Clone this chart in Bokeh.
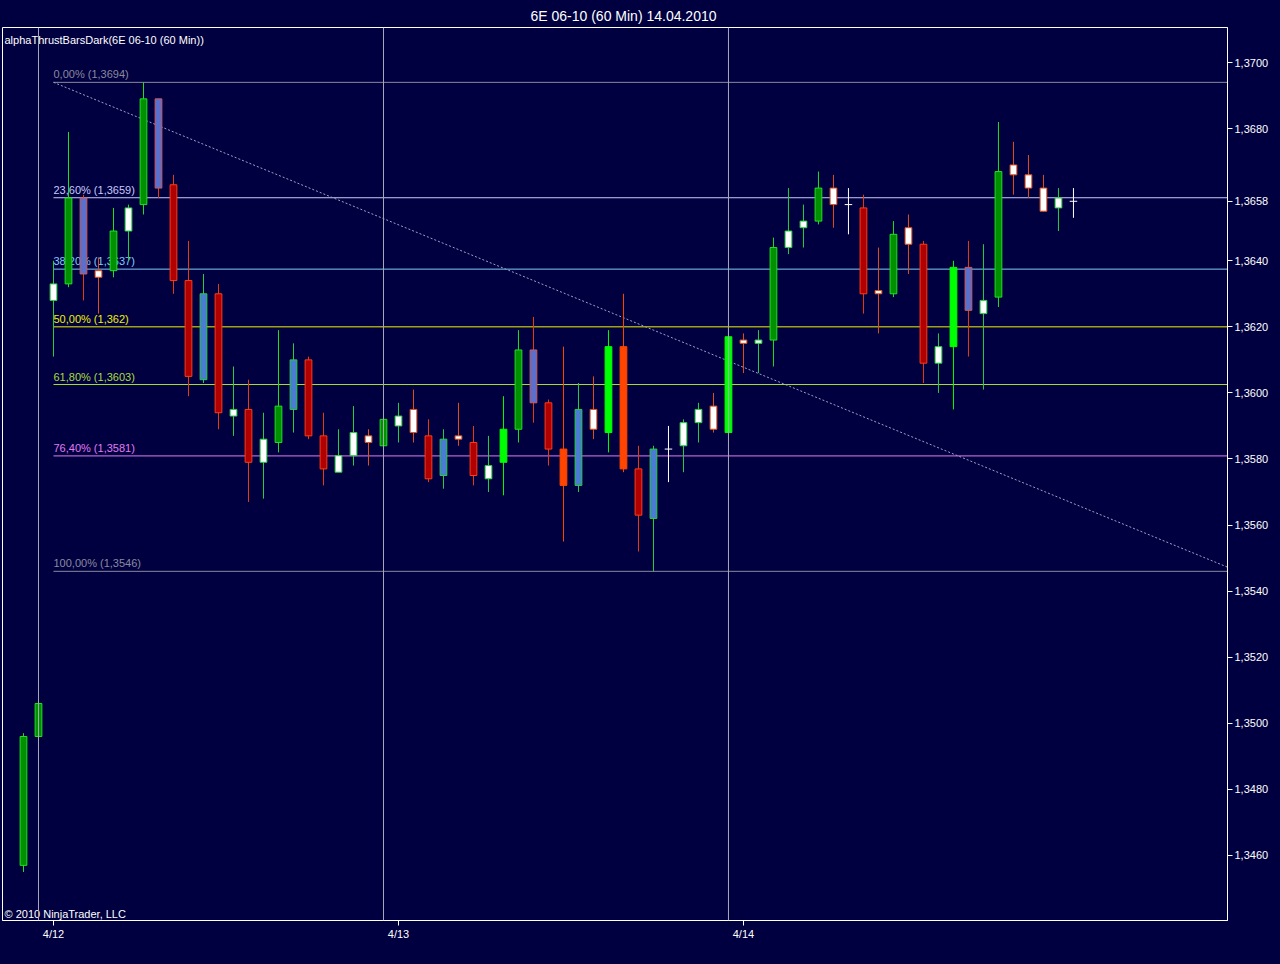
from bokeh.plotting import figure
from bokeh.models import Range1d, FixedTicker, CustomJSTickFormatter, Span, ColumnDataSource
from bokeh.core.properties import value
from bokeh.embed import file_html
from bokeh.resources import INLINE

FONT = "Liberation Sans"
BG = "#000040"

# hourly bars, index 0 = last bar before 4/12 session line
opens = [1.3457, 1.3496, 1.3628, 1.3633, 1.3659, 1.3637, 1.3637, 1.3649, 1.3657, 1.3689,
         1.3663, 1.3634, 1.3604, 1.3630, 1.3593, 1.3595, 1.3579, 1.3585, 1.3595, 1.3610,
         1.3587, 1.3576, 1.3581, 1.3587, 1.3584, 1.3590, 1.3588, 1.3587, 1.3575, 1.3587,
         1.3585, 1.3574, 1.3579, 1.3589, 1.3613, 1.3597, 1.3583, 1.3572, 1.3589, 1.3588,
         1.3614, 1.3577, 1.3562, 1.3583, 1.3584, 1.3591, 1.3589, 1.3588, 1.3616, 1.3615,
         1.3616, 1.3644, 1.3650, 1.3652, 1.3662, 1.3657, 1.3656, 1.3631, 1.3630, 1.3645,
         1.3645, 1.3609, 1.3614, 1.3638, 1.3624, 1.3629, 1.3669, 1.3666, 1.3662, 1.3656,
         1.3658]
highs = [1.3497, 1.3507, 1.3640, 1.3679, 1.3660, 1.3641, 1.3656, 1.3657, 1.3694, 1.3689,
         1.3666, 1.3646, 1.3636, 1.3633, 1.3608, 1.3604, 1.3594, 1.3619, 1.3615, 1.3611,
         1.3594, 1.3589, 1.3596, 1.3589, 1.3594, 1.3597, 1.3601, 1.3592, 1.3589, 1.3597,
         1.3590, 1.3587, 1.3599, 1.3619, 1.3623, 1.3598, 1.3614, 1.3603, 1.3605, 1.3619,
         1.3630, 1.3584, 1.3584, 1.3590, 1.3592, 1.3597, 1.3600, 1.3620, 1.3618, 1.3619,
         1.3647, 1.3662, 1.3657, 1.3667, 1.3666, 1.3662, 1.3660, 1.3644, 1.3652, 1.3654,
         1.3646, 1.3618, 1.3640, 1.3646, 1.3645, 1.3682, 1.3676, 1.3672, 1.3666, 1.3662,
         1.3662]
lows = [1.3455, 1.3489, 1.3611, 1.3632, 1.3628, 1.3624, 1.3635, 1.3640, 1.3654, 1.3659,
        1.3630, 1.3599, 1.3603, 1.3589, 1.3587, 1.3567, 1.3568, 1.3582, 1.3588, 1.3586,
        1.3572, 1.3576, 1.3578, 1.3578, 1.3582, 1.3585, 1.3585, 1.3573, 1.3571, 1.3584,
        1.3572, 1.3570, 1.3569, 1.3585, 1.3591, 1.3578, 1.3555, 1.3570, 1.3586, 1.3582,
        1.3576, 1.3552, 1.3546, 1.3573, 1.3576, 1.3585, 1.3588, 1.3588, 1.3606, 1.3606,
        1.3608, 1.3642, 1.3644, 1.3651, 1.3650, 1.3648, 1.3624, 1.3618, 1.3629, 1.3636,
        1.3603, 1.3600, 1.3595, 1.3611, 1.3601, 1.3626, 1.3660, 1.3659, 1.3655, 1.3649,
        1.3653]
closes = [1.3496, 1.3506, 1.3633, 1.3659, 1.3636, 1.3635, 1.3649, 1.3656, 1.3689, 1.3662,
          1.3634, 1.3605, 1.3630, 1.3594, 1.3595, 1.3579, 1.3586, 1.3596, 1.3610, 1.3587,
          1.3577, 1.3581, 1.3588, 1.3585, 1.3592, 1.3593, 1.3595, 1.3574, 1.3586, 1.3586,
          1.3575, 1.3578, 1.3589, 1.3613, 1.3597, 1.3583, 1.3572, 1.3595, 1.3595, 1.3614,
          1.3577, 1.3563, 1.3583, 1.3583, 1.3591, 1.3595, 1.3596, 1.3617, 1.3615, 1.3616,
          1.3644, 1.3649, 1.3652, 1.3662, 1.3657, 1.3657, 1.3630, 1.3630, 1.3648, 1.3650,
          1.3609, 1.3614, 1.3638, 1.3625, 1.3628, 1.3667, 1.3666, 1.3662, 1.3655, 1.3659,
          1.3658]
# alphaThrust bar type per bar
kinds = ["G", "G", "WG", "G", "BR", "WR", "G", "WG", "G", "BR",
         "R", "R", "BG", "R", "WG", "R", "WG", "G", "BG", "R",
         "R", "WG", "WG", "WR", "G", "WG", "WR", "R", "BG", "WR",
         "R", "WG", "L", "G", "BR", "R", "O", "BG", "WR", "L",
         "O", "R", "BG", "X", "WG", "WG", "WR", "L", "WR", "WG",
         "G", "WG", "WG", "G", "WR", "X", "R", "WR", "G", "WR",
         "R", "WG", "L", "BR", "WG", "G", "WR", "WR", "WR", "WG",
         "X"]

fib_pcts = [0.0, 23.6, 38.2, 50.0, 61.8, 76.4, 100.0]
fib_labels = ["0,00% (1,3694)", "23,60% (1,3659)", "38,20% (1,3637)", "50,00% (1,362)",
              "61,80% (1,3603)", "76,40% (1,3581)", "100,00% (1,3546)"]
fib_high, fib_low = 1.3694, 1.3546
fib_colors = ["#8a8a9e", "#c8c8f8", "#80ccf4", "#f0f000", "#a8dc3c", "#e07cf0", "#8a8a9e"]

trend_x = [2, 80.3]
trend_y = [1.3694, 1.35472]

day_lines = [1, 24, 47]
day_ticks = [2, 25, 48]
day_labels = ["4/12", "4/13", "4/14"]
# 1,3660 sits behind the last-price marker
y_ticks = [1.346, 1.348, 1.350, 1.352, 1.354, 1.356, 1.358, 1.360, 1.362, 1.364, 1.368, 1.370]
last_price = 1.3658

style = {
    "G": ("#009000", "#20e020", "#20e020"),
    "L": ("#00ff00", "#00ff00", "#00ff00"),
    "R": ("#b00000", "#ff3c14", "#e83c14"),
    "O": ("#ff4500", "#ff4500", "#ff4500"),
    "BG": ("#4a7cd4", "#28d040", "#28d040"),
    "BR": ("#5a70cc", "#d05a5a", "#e83c14"),
    "WG": ("#ffffff", "#28d040", "#28d040"),
    "WR": ("#ffffff", "#e0501e", "#e0501e"),
    "X": ("#ffffff", "#ffffff", "#ffffff"),
}

bars = list(range(len(opens)))

p = figure(width=1280, height=964, output_backend="svg", toolbar_location=None,
           x_range=Range1d(-1.4, 80.27), y_range=Range1d(1.344031, 1.37106),
           y_axis_location="right", min_border_left=2, min_border_right=53,
           min_border_top=27, min_border_bottom=44,
           title="6E 06-10 (60 Min)  14.04.2010")
p.background_fill_color = BG
p.border_fill_color = BG
p.outline_line_color = "white"
p.outline_line_width = 1
p.grid.visible = False

p.title.align = "left"
p.title.offset = 528
p.title.standoff = 8
p.title.text_color = "white"
p.title.text_font = FONT
p.title.text_font_size = "14px"
p.title.text_font_style = "normal"

for ax in (p.xaxis[0], p.yaxis[0]):
    ax.axis_line_color = "white"
    ax.major_tick_line_color = "white"
    ax.major_tick_in = 0
    ax.major_tick_out = 5
    ax.minor_tick_line_color = None
    ax.major_label_text_color = "white"
    ax.major_label_text_font = FONT
    ax.major_label_text_font_size = "11px"
    ax.major_label_standoff = 2

p.yaxis.ticker = FixedTicker(ticks=y_ticks + [last_price])
p.yaxis.formatter = CustomJSTickFormatter(code="return tick.toFixed(4).replace('.', ',');")
p.xaxis.ticker = FixedTicker(ticks=day_ticks)
p.xaxis.major_label_overrides = dict(zip(day_ticks, day_labels))

for d in day_lines:
    p.add_layout(Span(location=d, dimension="height", line_color="#a8a8b8", line_width=1))

# fibonacci retracement
fib_y = [fib_high - pc / 100.0 * (fib_high - fib_low) for pc in fib_pcts]
p.segment(x0=[2] * len(fib_y), y0=fib_y, x1=[80.3] * len(fib_y), y1=fib_y,
          line_color=fib_colors, line_width=1)
p.text(x=[2] * len(fib_y), y=fib_y, text=fib_labels, text_color=fib_colors,
       text_font=value(FONT), text_font_size="11px", text_baseline="bottom",
       text_align="left", y_offset=-2)

p.line(trend_x, trend_y, line_color="#a0a0c4", line_width=1, line_dash="2 2")

# candles
wick = ColumnDataSource(dict(x=bars, low=lows, high=highs,
                             color=[style[k][2] for k in kinds]))
p.segment(x0="x", y0="low", x1="x", y1="high", line_color="color", line_width=1, source=wick)

bi = [i for i in bars if kinds[i] != "X"]
body = ColumnDataSource(dict(
    x=bi,
    top=[max(opens[i], closes[i]) for i in bi],
    bot=[min(opens[i], closes[i]) for i in bi],
    fill=[style[kinds[i]][0] for i in bi],
    edge=[style[kinds[i]][1] for i in bi],
))
p.vbar(x="x", top="top", bottom="bot", width=0.45, fill_color="fill",
       line_color="edge", line_width=1, source=body)

xi = [i for i in bars if kinds[i] == "X"]
p.segment(x0=[i - 0.25 for i in xi], y0=[closes[i] for i in xi],
          x1=[i + 0.25 for i in xi], y1=[closes[i] for i in xi],
          line_color="white", line_width=1)

p.text(x=[-1.4], y=[1.37106], text=["alphaThrustBarsDark(6E 06-10 (60 Min))"],
       text_color="white", text_font=value(FONT), text_font_size="11px",
       text_baseline="top", text_align="left", x_offset=2, y_offset=6)
p.text(x=[-1.4], y=[1.344031], text=["\u00a9 2010 NinjaTrader, LLC"],
       text_color="white", text_font=value(FONT), text_font_size="11px",
       text_baseline="bottom", text_align="left", x_offset=2, y_offset=-1)

html = file_html(p, INLINE, title="6E 06-10 (60 Min)")
html = html.replace("<body>", '<body style="background-color:#000040;">')
open("out.html", "w").write(html)
